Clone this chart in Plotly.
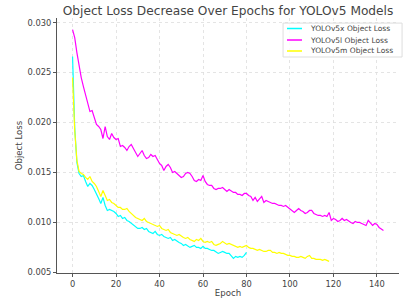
import plotly.graph_objects as go

yolov5x_loss = [0.0266, 0.0195, 0.0160, 0.0149, 0.0146, 0.0147, 0.0141, 0.0136, 0.0139, 0.0137,
                0.0133, 0.0129, 0.0124, 0.0119, 0.0125, 0.0117, 0.0112, 0.0113, 0.0112, 0.0111,
                0.0109, 0.0106, 0.0107, 0.0104, 0.0105, 0.0102, 0.0101, 0.0099, 0.0098, 0.0096,
                0.0094, 0.0094, 0.0095, 0.0093, 0.0094, 0.0091, 0.0090, 0.0089, 0.0091, 0.0088,
                0.0087, 0.0088, 0.0086, 0.0085, 0.0084, 0.0085, 0.0082, 0.0083, 0.0081, 0.0080,
                0.0079, 0.0077, 0.0078, 0.0076, 0.0075, 0.0076, 0.0077, 0.0075, 0.0075, 0.0074,
                0.0076, 0.0074, 0.0074, 0.0073, 0.0072, 0.0072, 0.0070, 0.0069, 0.0070, 0.0071,
                0.0070, 0.0069, 0.0069, 0.0066, 0.0064, 0.0066, 0.0065, 0.0066, 0.0065, 0.0067,
                0.0070]

yolov5m_loss = [0.0245, 0.0192, 0.0162, 0.0151, 0.0149, 0.0148, 0.0145, 0.0143, 0.0146, 0.0141,
                0.0139, 0.0136, 0.0131, 0.0126, 0.0132, 0.0127, 0.0122, 0.0123, 0.0120, 0.0119,
                0.0117, 0.0115, 0.0115, 0.0113, 0.0113, 0.0114, 0.0111, 0.0109, 0.0106, 0.0105,
                0.0104, 0.0103, 0.0102, 0.0104, 0.0101, 0.0100, 0.0099, 0.0098, 0.0097, 0.0096,
                0.0097, 0.0094, 0.0093, 0.0092, 0.0093, 0.0090, 0.0089, 0.0088, 0.0087, 0.0088,
                0.0086, 0.0085, 0.0084, 0.0085, 0.0083, 0.0082, 0.0081, 0.0083, 0.0082, 0.0084,
                0.0081, 0.0080, 0.0081, 0.0080, 0.0081, 0.0078, 0.0077, 0.0078, 0.0079, 0.0081,
                0.0079, 0.0078, 0.0079, 0.0078, 0.0077, 0.0076, 0.0075, 0.0076, 0.0075, 0.0076,
                0.0077, 0.0075, 0.0074, 0.0074, 0.0073, 0.0072, 0.0073, 0.0072, 0.0071, 0.0071,
                0.0072, 0.0072, 0.0070, 0.0070, 0.0069, 0.0070, 0.0069, 0.0069, 0.0068, 0.0067,
                0.0067, 0.0066, 0.0066, 0.0065, 0.0065, 0.0066, 0.0065, 0.0064, 0.0066, 0.0067,
                0.0064, 0.0064, 0.0063, 0.0063, 0.0063, 0.0062, 0.0063, 0.0062, 0.0061]

yolov5l_loss = [0.0293, 0.0285, 0.0270, 0.0256, 0.0245, 0.0236, 0.0227, 0.0219, 0.0211, 0.0212,
                0.0204, 0.0198, 0.0196, 0.0193, 0.0184, 0.0196, 0.0186, 0.0183, 0.0189, 0.0185,
                0.0183, 0.0184, 0.0176, 0.0177, 0.0175, 0.0172, 0.0176, 0.0178, 0.0174, 0.0170,
                0.0166, 0.0169, 0.0172, 0.0167, 0.0164, 0.0165, 0.0168, 0.0166, 0.0167, 0.0163,
                0.0159, 0.0157, 0.0152, 0.0156, 0.0158, 0.0155, 0.0150, 0.0151, 0.0149, 0.0148,
                0.0145, 0.0146, 0.0149, 0.0150, 0.0149, 0.0146, 0.0142, 0.0141, 0.0143, 0.0142,
                0.0147, 0.0141, 0.0138, 0.0137, 0.0137, 0.0134, 0.0133, 0.0134, 0.0134, 0.0135,
                0.0133, 0.0131, 0.0133, 0.0131, 0.0130, 0.0130, 0.0128, 0.0128, 0.0127, 0.0129,
                0.0129, 0.0127, 0.0126, 0.0122, 0.0125, 0.0121, 0.0124, 0.0126, 0.0120, 0.0122,
                0.0121, 0.0120, 0.0119, 0.0119, 0.0118, 0.0117, 0.0117, 0.0116, 0.0117, 0.0115,
                0.0114, 0.0112, 0.0110, 0.0112, 0.0114, 0.0112, 0.0111, 0.0109, 0.0110, 0.0112,
                0.0112, 0.0109, 0.0108, 0.0107, 0.0107, 0.0106, 0.0107, 0.0106, 0.0110, 0.0102,
                0.0104, 0.0103, 0.0101, 0.0102, 0.0104, 0.0102, 0.0103, 0.0101, 0.0100, 0.0099,
                0.0101, 0.0100, 0.0100, 0.0099, 0.0098, 0.0097, 0.0102, 0.0099, 0.0097, 0.0099,
                0.0098, 0.0095, 0.0093, 0.0092]

series_names = ["YOLOv5x Object Loss", "YOLOv5l Object Loss", "YOLOv5m Object Loss"]
series_colors = ["#00FFFF", "#FF00FF", "#FFFF00"]
series_values = [yolov5x_loss, yolov5l_loss, yolov5m_loss]

x_ticks = [0, 20, 40, 60, 80, 100, 120, 140]
y_ticks = [0.005, 0.010, 0.015, 0.020, 0.025, 0.030]

FONT = "DejaVu Sans"
TXT = "#444444"
fig = go.Figure()
for name, color, vals in zip(series_names, series_colors, series_values):
    fig.add_trace(go.Scatter(x=list(range(len(vals))), y=vals, mode="lines", name=name,
                             line=dict(color=color, width=1.2), showlegend=False))

axis_common = dict(showline=True, linecolor="#555555", linewidth=1, ticks="outside",
                   ticklen=3, tickcolor="#555555", tickfont=dict(family=FONT, size=8.3, color=TXT),
                   showgrid=True, gridcolor="#DDDDDD", griddash="dot", gridwidth=0.8,
                   zeroline=False, mirror=False, automargin=False)

# legend drawn in the top-right corner of the plot area (paper coordinates)
shapes = [dict(type="rect", xref="paper", yref="paper", x0=0.661, x1=1.009, y0=0.847, y1=0.980,
               line=dict(color="#DDDDDD", width=1), fillcolor="rgba(255,255,255,0.85)", layer="above")]
annotations = []
row_y = [0.9588, 0.9137, 0.8706]
for name, color, yy in zip(series_names, series_colors, row_y):
    shapes.append(dict(type="line", xref="paper", yref="paper", x0=0.6725, x1=0.7164, y0=yy, y1=yy,
                       line=dict(color=color, width=1.5), layer="above"))
    annotations.append(dict(text=name, xref="paper", yref="paper", x=0.7339, y=yy,
                            xanchor="left", yanchor="middle", showarrow=False,
                            font=dict(family=FONT, size=7.5, color=TXT)))

fig.update_layout(
    width=408, height=299,
    margin=dict(l=57, r=9, t=18, b=26),
    paper_bgcolor="white", plot_bgcolor="white",
    title=dict(text="Object Loss Decrease Over Epochs for YOLOv5 Models", x=0.5, xanchor="center",
               xref="paper", yref="container", y=0.98, yanchor="top",
               font=dict(family=FONT, size=12.2, color=TXT)),
    xaxis=dict(range=[-7.15, 150.15], tickvals=x_ticks,
               title=dict(text="Epoch", font=dict(family=FONT, size=8.6, color=TXT), standoff=2),
               **axis_common),
    yaxis=dict(range=[0.00494, 0.03046], tickvals=y_ticks, tickformat=".3f",
               title=dict(text="Object Loss", font=dict(family=FONT, size=8.6, color=TXT), standoff=3),
               **axis_common),
    shapes=shapes,
    annotations=annotations,
    showlegend=False,
)

fig.write_html("out.html", config={"displayModeBar": False, "staticPlot": True},
               post_script="document.body.style.margin='0';document.body.style.overflow='hidden';")
